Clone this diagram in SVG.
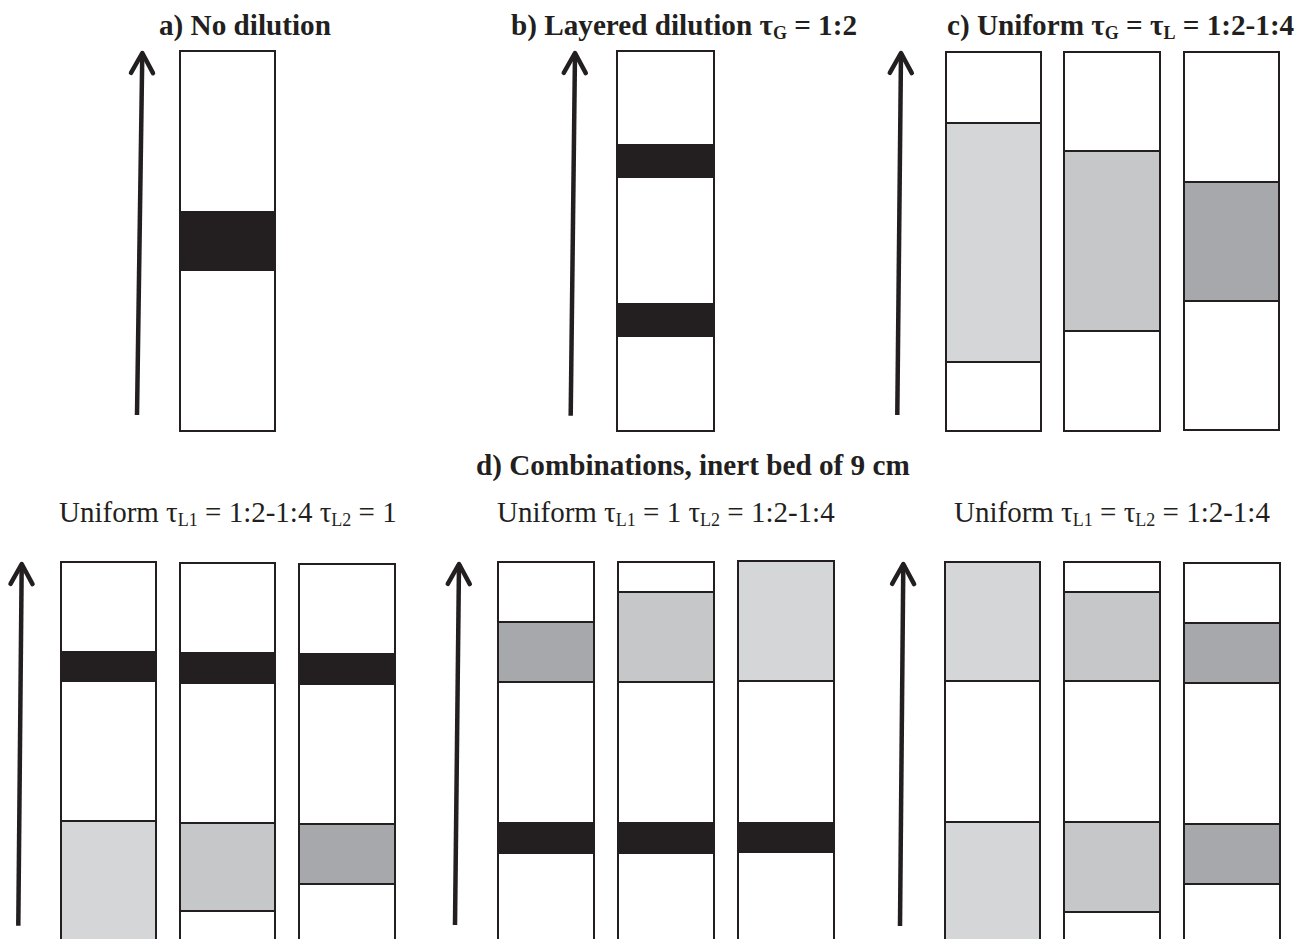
<svg xmlns="http://www.w3.org/2000/svg" width="1297" height="939" viewBox="0 0 1297 939">
<style>
.t{font-family:"Liberation Serif","Times New Roman",serif;fill:#231f20}
.tb{font-weight:bold;font-size:29.2px}
.tr{font-size:29px}
.col{fill:#fff;stroke:#231f20;stroke-width:2}
.frame{fill:none;stroke:#231f20;stroke-width:2}
.blk{fill:#231f20}
.g1{fill:#d5d6d8;stroke:#231f20;stroke-width:2}
.g2{fill:#c6c7c9;stroke:#231f20;stroke-width:2}
.g3{fill:#a7a8ab;stroke:#231f20;stroke-width:2}
.arr{fill:none;stroke:#231f20;stroke-width:4.5;marker-end:url(#head)}
</style>
<defs>
<marker id="head" markerUnits="userSpaceOnUse" viewBox="-26 -16 30 32" markerWidth="30" markerHeight="32" refX="0" refY="0" orient="auto" overflow="visible">
<path d="M -20 -11 L 0 0 L -20 11" fill="none" stroke="#231f20" stroke-width="4.5" stroke-linecap="round" stroke-linejoin="round"/>
</marker>
</defs>
<rect width="1297" height="939" fill="#fff"/>

<g id="labels">
<text class="t tb" x="159" y="35">a) No dilution</text>
<text class="t tb" x="511" y="35">b) Layered dilution τ<tspan font-size="18" dy="4">G</tspan><tspan dy="-4"> = 1:2</tspan></text>
<text class="t tb" x="947" y="35">c) Uniform τ<tspan font-size="18" dy="4">G</tspan><tspan dy="-4"> = τ</tspan><tspan font-size="18" dy="4">L</tspan><tspan dy="-4"> = 1:2-1:4</tspan></text>
<text class="t tb" x="476" y="475">d) Combinations, inert bed of 9 cm</text>
<text class="t tr" x="59" y="522">Uniform τ<tspan font-size="18" dy="4">L1</tspan><tspan dy="-4"> = 1:2-1:4 τ</tspan><tspan font-size="18" dy="4">L2</tspan><tspan dy="-4"> = 1</tspan></text>
<text class="t tr" x="497" y="522">Uniform τ<tspan font-size="18" dy="4">L1</tspan><tspan dy="-4"> = 1 τ</tspan><tspan font-size="18" dy="4">L2</tspan><tspan dy="-4"> = 1:2-1:4</tspan></text>
<text class="t tr" x="954" y="522">Uniform τ<tspan font-size="18" dy="4">L1</tspan><tspan dy="-4"> = τ</tspan><tspan font-size="18" dy="4">L2</tspan><tspan dy="-4"> = 1:2-1:4</tspan></text>
</g>

<g id="connectors">
<path class="arr" d="M 137 415 L 142.3 53"/>
<path class="arr" d="M 570.7 415.7 L 575 53"/>
<path class="arr" d="M 897.3 415 L 901 53"/>
<path class="arr" d="M 18.3 925.7 L 21.7 564"/>
<path class="arr" d="M 455 925 L 459 564"/>
<path class="arr" d="M 900 926 L 903.3 564"/>
</g>

<g id="col-a">
<rect class="col" x="180" y="51" width="95" height="380"/>
<rect class="blk" x="180" y="211" width="95" height="60"/>
<rect class="frame" x="180" y="51" width="95" height="380"/>
</g>
<g id="col-b">
<rect class="col" x="617" y="51" width="97" height="380"/>
<rect class="blk" x="617" y="144" width="97" height="34"/>
<rect class="blk" x="617" y="303" width="97" height="34"/>
<rect class="frame" x="617" y="51" width="97" height="380"/>
</g>
<g id="col-c1">
<rect class="col" x="946" y="52" width="95" height="379"/>
<rect class="g1" x="946" y="123" width="95" height="239"/>
<rect class="frame" x="946" y="52" width="95" height="379"/>
</g>
<g id="col-c2">
<rect class="col" x="1064" y="52" width="96" height="379"/>
<rect class="g2" x="1064" y="151" width="96" height="180"/>
<rect class="frame" x="1064" y="52" width="96" height="379"/>
</g>
<g id="col-c3">
<rect class="col" x="1184" y="52" width="95" height="378"/>
<rect class="g3" x="1184" y="182" width="95" height="119"/>
<rect class="frame" x="1184" y="52" width="95" height="378"/>
</g>

<g id="col-d1-1">
<rect class="col" x="61" y="562" width="95" height="400"/>
<rect class="blk" x="61" y="651" width="95" height="31"/>
<rect class="g1" x="61" y="821" width="95" height="141"/>
<rect class="frame" x="61" y="562" width="95" height="400"/>
</g>
<g id="col-d1-2">
<rect class="col" x="180" y="563" width="95" height="400"/>
<rect class="blk" x="180" y="652" width="95" height="32"/>
<rect class="g2" x="180" y="823" width="95" height="88"/>
<rect class="frame" x="180" y="563" width="95" height="400"/>
</g>
<g id="col-d1-3">
<rect class="col" x="299" y="564" width="96" height="400"/>
<rect class="blk" x="299" y="653" width="96" height="32"/>
<rect class="g3" x="299" y="824" width="96" height="60"/>
<rect class="frame" x="299" y="564" width="96" height="400"/>
</g>

<g id="col-d2-1">
<rect class="col" x="498" y="562" width="96" height="400"/>
<rect class="g3" x="498" y="622" width="96" height="60"/>
<rect class="blk" x="498" y="822" width="96" height="32"/>
<rect class="frame" x="498" y="562" width="96" height="400"/>
</g>
<g id="col-d2-2">
<rect class="col" x="618" y="562" width="96" height="400"/>
<rect class="g2" x="618" y="592" width="96" height="90"/>
<rect class="blk" x="618" y="822" width="96" height="32"/>
<rect class="frame" x="618" y="562" width="96" height="400"/>
</g>
<g id="col-d2-3">
<rect class="col" x="738" y="561" width="96" height="400"/>
<rect class="g1" x="738" y="561" width="96" height="120"/>
<rect class="blk" x="738" y="822" width="96" height="31"/>
<rect class="frame" x="738" y="561" width="96" height="400"/>
</g>

<g id="col-d3-1">
<rect class="col" x="945" y="562" width="95" height="400"/>
<rect class="g1" x="945" y="562" width="95" height="119"/>
<rect class="g1" x="945" y="822" width="95" height="140"/>
<rect class="frame" x="945" y="562" width="95" height="400"/>
</g>
<g id="col-d3-2">
<rect class="col" x="1064" y="562" width="96" height="400"/>
<rect class="g2" x="1064" y="592" width="96" height="89"/>
<rect class="g2" x="1064" y="822" width="96" height="90"/>
<rect class="frame" x="1064" y="562" width="96" height="400"/>
</g>
<g id="col-d3-3">
<rect class="col" x="1184" y="563" width="96" height="400"/>
<rect class="g3" x="1184" y="623" width="96" height="60"/>
<rect class="g3" x="1184" y="824" width="96" height="60"/>
<rect class="frame" x="1184" y="563" width="96" height="400"/>
</g>
</svg>
